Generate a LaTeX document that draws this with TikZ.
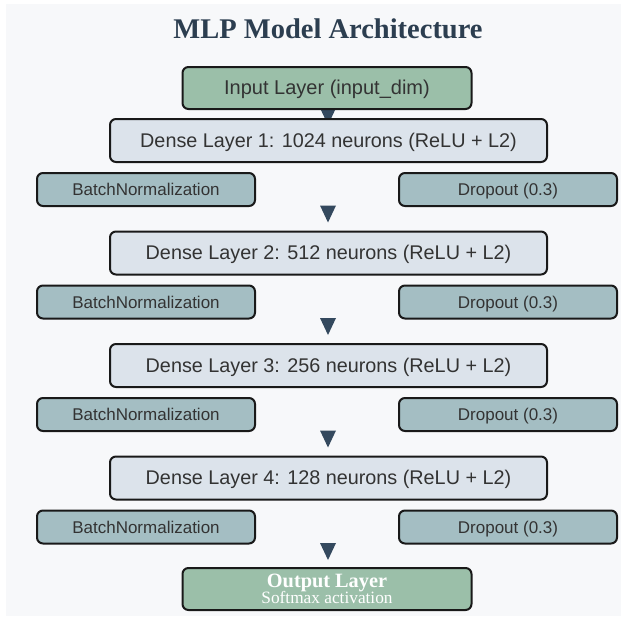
\documentclass[tikz,border=0pt]{standalone}
\usepackage{fontspec}
\setmainfont{Liberation Serif}
\newfontfamily\boxfont{Liberation Sans}
\usepackage{tikz}
\usetikzlibrary{positioning}

\definecolor{pagebg}{HTML}{F7F8FA}
\definecolor{titlecol}{HTML}{2C3E50}
\definecolor{ioface}{HTML}{9BBFA9}
\definecolor{denseface}{HTML}{DCE3EB}
\definecolor{regface}{HTML}{A4BEC3}
\definecolor{arrowcol}{HTML}{34495E}
\definecolor{textcol}{HTML}{333333}

\tikzset{
	layerbox/.style={draw=black!90, line width=2pt, rounded corners=6pt, inner sep=0pt,
		text height=14pt, text depth=1pt,
		text=textcol, font=\boxfont\fontsize{19.8}{22}\selectfont},
	iobox/.style={layerbox, fill=ioface, minimum width=289pt, minimum height=42pt},
	densebox/.style={layerbox, fill=denseface, minimum width=437pt, minimum height=43pt},
	regbox/.style={layerbox, fill=regface, minimum width=218pt, minimum height=33pt,
		text height=12.5pt, text depth=0.5pt, font=\boxfont\fontsize{17}{20}\selectfont},
	marker/.style={fill=arrowcol}
}

\begin{document}
\begin{tikzpicture}[x=1pt,y=-1pt]
	\useasboundingbox (0,0) rectangle (621,616);
	\fill[white] (0,0) rectangle (621,616);
	\fill[pagebg] (6,4) rectangle (621,616);
	\node[font=\bfseries\fontsize{28.5}{32}\selectfont, text=titlecol] (title) at (328,29) {MLP Model Architecture};
	% first marker sits under the input and dense boxes
	\fill[marker] (320,108) -- (336,108) -- (328,125) -- cycle;
	\node[iobox, font=\boxfont\fontsize{20}{22}\selectfont] (input) at (327,88) {Input Layer (input\_dim)};
	\foreach \i/\units/\y in {1/1024/140.5, 2/512/253, 3/256/365.5, 4/128/478}
	{
		\node[densebox] (dense\i) at (328.5,\y) {Dense Layer \i: \units{} neurons (ReLU + L2)};
		\node[regbox] (batchnorm\i) at (146,\y+49) {BatchNormalization};
		\node[regbox] (dropout\i) at (508,\y+49) {Dropout (0.3)};
		\fill[marker] (320,\y+65) -- (336,\y+65) -- (328,\y+82) -- cycle;
	}
	\node[iobox, align=center, text=white, font=\rmfamily, text height=, text depth=] (output) at (327,589)
		{{\bfseries\fontsize{20.3}{15}\selectfont Output Layer}\\[-1pt]{\fontsize{17.3}{14}\selectfont Softmax activation}};
\end{tikzpicture}
\end{document}
